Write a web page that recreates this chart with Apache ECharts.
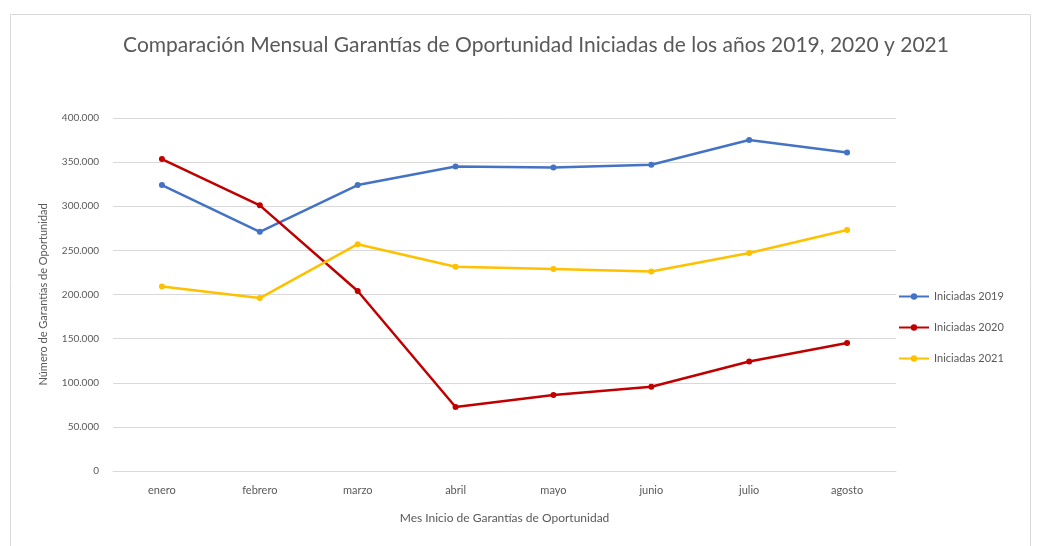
<!DOCTYPE html>
<html>
<head>
<meta charset="utf-8">
<script src="https://cdn.jsdelivr.net/npm/echarts@6/dist/echarts.min.js"></script>
<style>
  html, body { margin: 0; padding: 0; background: #fff; }
  #chart { width: 1040px; height: 546px; }
</style>
</head>
<body>
<div id="chart"></div>
<script>
var meses = ["enero", "febrero", "marzo", "abril", "mayo", "junio", "julio", "agosto"];
var iniciadas2019 = [324000, 271000, 324000, 345000, 344000, 347000, 375000, 361000];
var iniciadas2020 = [353500, 301000, 204000, 72500, 86000, 95500, 124000, 145000];
var iniciadas2021 = [209000, 196000, 257000, 231500, 229000, 226000, 247000, 273000];

var gris = "#595959";
var fuente = "Lato";

function serie(nombre, datos, color) {
  return {
    name: nombre,
    type: "line",
    data: datos,
    symbol: "circle",
    symbolSize: 6,
    lineStyle: { width: 2.5, color: color },
    itemStyle: { color: color },
    z: 3
  };
}

var chart = echarts.init(document.getElementById("chart"));
chart.setOption({
  animation: false,
  backgroundColor: "#fff",
  textStyle: { fontFamily: fuente },
  title: {
    text: "Comparación Mensual Garantías de Oportunidad Iniciadas de los años 2019, 2020 y 2021",
    left: 531,
    textAlign: "center",
    top: 30,
    textStyle: { fontFamily: fuente, fontSize: 21, fontWeight: "normal", color: gris }
  },
  legend: {
    orient: "vertical",
    left: 893,
    top: 286,
    itemGap: 20,
    itemWidth: 30,
    itemHeight: 8,
    textStyle: { fontFamily: fuente, fontSize: 11, color: gris },
    data: ["Iniciadas 2019", "Iniciadas 2020", "Iniciadas 2021"]
  },
  grid: { left: 113, right: 144, top: 118, bottom: 75 },
  xAxis: {
    type: "category",
    data: meses,
    boundaryGap: true,
    name: "Mes Inicio de Garantías de Oportunidad",
    nameLocation: "middle",
    nameGap: 41,
    nameTextStyle: { fontFamily: fuente, fontSize: 12, color: gris },
    axisLine: { lineStyle: { color: "#d9d9d9" } },
    axisTick: { show: false },
    axisLabel: { color: gris, fontSize: 11, margin: 14 }
  },
  yAxis: {
    type: "value",
    min: 0,
    max: 400000,
    interval: 50000,
    name: "Número de Garantías de Oportunidad",
    nameLocation: "middle",
    nameGap: 64,
    nameTextStyle: { fontFamily: fuente, fontSize: 11, color: gris },
    axisLine: { show: false },
    axisTick: { show: false },
    splitLine: { lineStyle: { color: "#d9d9d9" } },
    axisLabel: {
      color: gris,
      fontSize: 10,
      margin: 14,
      formatter: function (v) {
        return String(v).replace(/\B(?=(\d{3})+(?!\d))/g, ".");
      }
    }
  },
  graphic: [{
    type: "rect",
    shape: { x: 10.5, y: 14.5, width: 1020, height: 540 },
    style: { fill: null, stroke: "#d9d9d9", lineWidth: 1 },
    silent: true
  }],
  series: [
    serie("Iniciadas 2019", iniciadas2019, "#4472C4"),
    serie("Iniciadas 2020", iniciadas2020, "#C00000"),
    serie("Iniciadas 2021", iniciadas2021, "#FFC000")
  ]
});
</script>
</body>
</html>
